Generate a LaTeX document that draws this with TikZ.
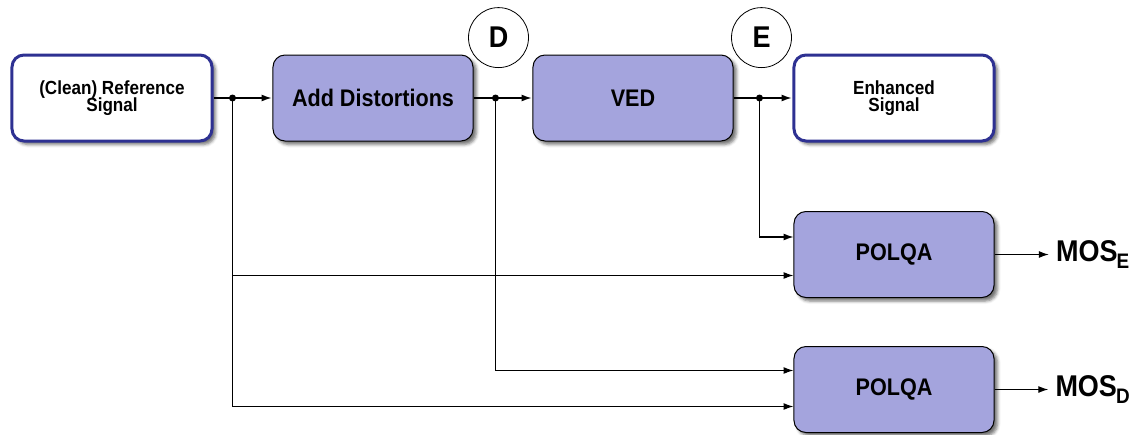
\documentclass[tikz,border=0pt]{standalone}
\usepackage{fontspec}
\setmainfont{Liberation Sans}[FakeStretch=0.9]
\usepackage{tikz}
\usetikzlibrary{matrix,chains,scopes,positioning,arrows.meta,shadows.blur}

\definecolor{procfill}{RGB}{164,164,221}
\definecolor{sigline}{RGB}{46,49,146}

% two centred lines, safe inside a matrix cell
\newcommand\twolines[2]{\vbox{\baselineskip=17.5pt\lineskiplimit=-20pt
    \halign{\hfil##\hfil\cr#1\cr#2\cr}}}
\newcommand\mosof[1]{MOS\kern-1pt\raisebox{-7pt}{\fontsize{21}{21}\selectfont #1}}

\tikzset{
    box/.style={rounded corners=12pt, minimum width=200pt, minimum height=86pt,
        inner sep=2pt,
        blur shadow={shadow xshift=3.5pt, shadow yshift=-3.5pt, shadow blur radius=3pt, shadow opacity=55}},
    sigbox/.style={box, draw=sigline, line width=3pt, fill=white,
        font=\fontsize{19}{17}\selectfont\bfseries},
    procbox/.style={box, draw=black, line width=1pt, fill=procfill,
        font=\fontsize{24}{26}\selectfont\bfseries},
    mos/.style={inner sep=6pt, font=\fontsize{30}{32}\selectfont\bfseries},
    tag/.style={circle, draw, line width=0.8pt, fill=white, minimum size=60pt,
        inner sep=0pt, font=\fontsize{30}{32}\selectfont\bfseries},
    wire/.style={line width=1.2pt},
    arrow/.style={wire, -{Latex[length=10pt,width=7pt]}}
}

\begin{document}
\begin{tikzpicture}[
    x=1pt, y=-1pt,
    every on chain/.append style={join},
    every join/.style={arrow, shorten >=1pt}
    ]
    \useasboundingbox (0,0) rectangle (1140,434);
    \matrix (m) [matrix of nodes, column sep=59pt, row sep=0pt, nodes={anchor=center},
        matrix anchor=m-1-1.center] at (112,98)
    {
        |[sigbox]| \twolines{(Clean) Reference}{Signal} & |[procbox]| Add Distortions & |[procbox]| VED & |[sigbox]| \twolines{Enhanced}{Signal} &[-5pt] \\[68.5pt]
        & & & |[procbox]| POLQA & |[mos]| \mosof{E} \\[48pt]
        & & & |[procbox]| POLQA & |[mos]| \mosof{D} \\
    };
    % junctions on the main line
    \coordinate[right=19pt of m-1-1] (j1);
    \coordinate[right=22pt of m-1-2] (j2);
    \coordinate[right=26pt of m-1-3] (j3);
    { [start chain]
        \chainin (m-1-1);
        \chainin (m-1-2);
        \chainin (m-1-3);
        \chainin (m-1-4);
    }
    { [start chain]
        \chainin (m-2-4);
        \chainin (m-2-5);
    }
    { [start chain]
        \chainin (m-3-4);
        \chainin (m-3-5);
    }
    \foreach \j in {j1,j2,j3}
        \fill (\j) circle (3.5pt);
    % branches to POLQA
    \draw[arrow] (j1) |- ([yshift=-21pt]m-2-4.west);
    \draw[arrow] (j1) |- ([yshift=-17pt]m-3-4.west);
    \draw[arrow] (j2) |- ([yshift=19pt]m-3-4.west);
    \draw[arrow] (j3) |- ([yshift=17.5pt]m-2-4.west);
    \node[tag, above=30pt of j2, xshift=3pt] (tagD) {D};
    \node[tag, above=30pt of j3, xshift=2pt] (tagE) {E};
\end{tikzpicture}
\end{document}
